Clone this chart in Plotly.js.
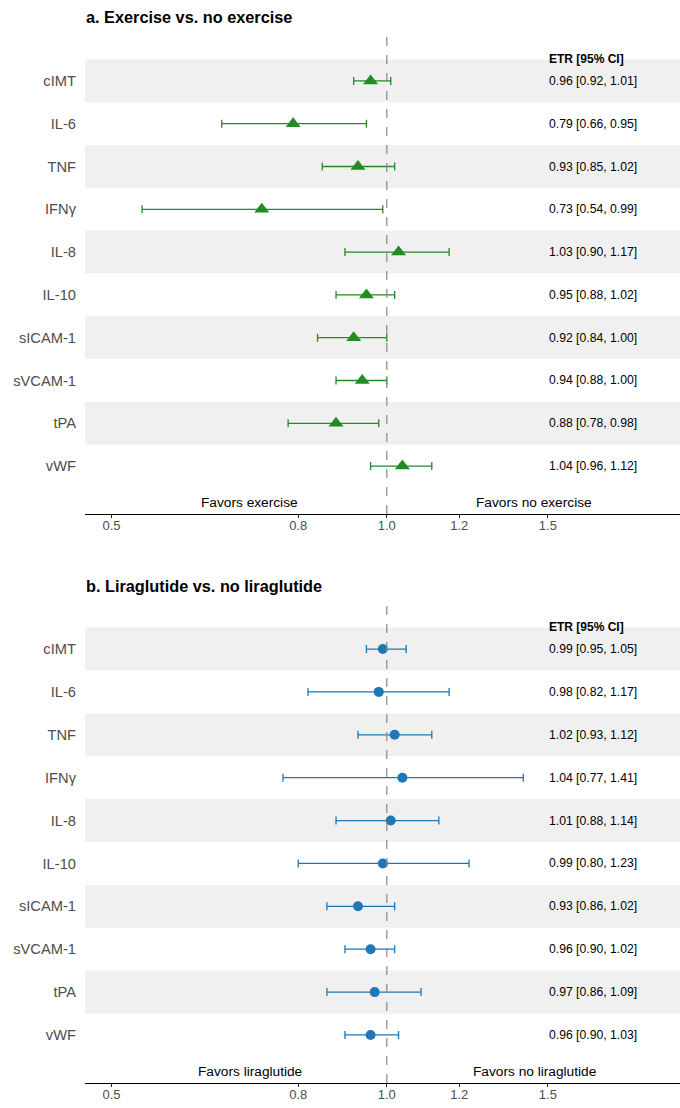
<!DOCTYPE html>
<html>
<head>
<meta charset="utf-8">
<script src="https://cdn.plot.ly/plotly-3.0.1.min.js"></script>
<style>html,body{margin:0;padding:0;background:#fff;}#chart{width:680px;height:1108px;}</style>
</head>
<body>
<div id="chart"></div>
<script>
const categories = ['cIMT','IL-6','TNF','IFNγ','IL-8','IL-10','sICAM-1','sVCAM-1','tPA','vWF'];

const exerciseEst = [0.96, 0.79, 0.93, 0.73, 1.03, 0.95, 0.92, 0.94, 0.88, 1.04];
const exerciseLow = [0.92, 0.66, 0.85, 0.54, 0.90, 0.88, 0.84, 0.88, 0.78, 0.96];
const exerciseHigh = [1.01, 0.95, 1.02, 0.99, 1.17, 1.02, 1.00, 1.00, 0.98, 1.12];

const liraEst = [0.99, 0.98, 1.02, 1.04, 1.01, 0.99, 0.93, 0.96, 0.97, 0.96];
const liraLow = [0.95, 0.82, 0.93, 0.77, 0.88, 0.80, 0.86, 0.90, 0.86, 0.90];
const liraHigh = [1.05, 1.17, 1.12, 1.41, 1.14, 1.23, 1.02, 1.02, 1.09, 1.03];

const tickVals = [0.5, 0.8, 1.0, 1.2, 1.5];
const tickText = ['0.5', '0.8', '1.0', '1.2', '1.5'];

const panelTitles = ['a. Exercise vs. no exercise', 'b. Liraglutide vs. no liraglutide'];
const favorsLeft = ['Favors exercise', 'Favors liraglutide'];
const favorsRight = ['Favors no exercise', 'Favors no liraglutide'];
const headerText = 'ETR [95% CI]';

const FONT = 'Liberation Sans, Arial, Helvetica, sans-serif';
const rows = categories.map((c, i) => i);
const fmt = v => v.toFixed(2);

function makeTrace(est, lo, hi, xa, ya, color, symbol, size) {
  return {
    type: 'scatter', mode: 'markers',
    x: est, y: rows, xaxis: xa, yaxis: ya,
    marker: {color: color, symbol: symbol, size: size, line: {width: 0}},
    error_x: {
      type: 'data', symmetric: false,
      array: est.map((v, i) => hi[i] - v),
      arrayminus: est.map((v, i) => v - lo[i]),
      color: color, thickness: 1.3, width: 4
    },
    hoverinfo: 'skip', showlegend: false, cliponaxis: false
  };
}

const data = [
  makeTrace(exerciseEst, exerciseLow, exerciseHigh, 'x', 'y', '#228B22', 'triangle-up', 13),
  makeTrace(liraEst, liraLow, liraHigh, 'x2', 'y2', '#1f77b4', 'circle', 10)
];

const xRange = [-0.330, 0.3206];
const yRange = [10.12, -1.19];

function xAxis(anchor) {
  return {
    type: 'log', range: xRange, domain: [85/680, 1], anchor: anchor,
    tickvals: tickVals, ticktext: tickText, ticks: 'outside', ticklen: 3,
    tickcolor: '#222', tickwidth: 1, showline: true, linecolor: '#000', linewidth: 1.3,
    showgrid: false, zeroline: false, fixedrange: true, ticklabelstandoff: -4,
    tickfont: {family: FONT, size: 13, color: '#4d4d4d'}
  };
}
function yAxis(anchor, domain) {
  return {
    range: yRange, domain: domain, anchor: anchor,
    tickvals: rows, ticktext: categories, ticks: '', showline: false,
    showgrid: false, zeroline: false, fixedrange: true,
    tickfont: {family: FONT, size: 14.7, color: '#4d4d4d'}, ticklabelstandoff: 8
  };
}

const shapes = [];
const annotations = [];
const panels = [
  {xa: 'x', ya: 'y', est: exerciseEst, lo: exerciseLow, hi: exerciseHigh, titleY: 1 - 17/1108},
  {xa: 'x2', ya: 'y2', est: liraEst, lo: liraLow, hi: liraHigh, titleY: 1 - 586/1108}
];
panels.forEach((p, k) => {
  rows.forEach(i => {
    if (i % 2 === 0) {
      shapes.push({type: 'rect', xref: p.xa + ' domain', x0: 0, x1: 1, yref: p.ya,
        y0: i - 0.5, y1: i + 0.5, fillcolor: '#f0f0f0', line: {width: 0}, layer: 'below'});
    }
    annotations.push({xref: p.xa + ' domain', x: 0.776, xanchor: 'left', yref: p.ya, y: i,
      yanchor: 'middle', showarrow: false,
      text: fmt(p.est[i]) + ' [' + fmt(p.lo[i]) + ', ' + fmt(p.hi[i]) + ']',
      font: {family: FONT, size: 12.2, color: '#000'}});
  });
  shapes.push({type: 'line', xref: p.xa, x0: 1, x1: 1, yref: p.ya + ' domain', y0: 0, y1: 1,
    line: {color: '#888', width: 1.2, dash: 'dash'}, layer: 'above'});
  annotations.push({xref: p.xa + ' domain', x: 0.776, xanchor: 'left', yref: p.ya, y: -0.52,
    yanchor: 'middle', showarrow: false, text: '<b>' + headerText + '</b>',
    font: {family: FONT, size: 12, color: '#000'}});
  annotations.push({xref: p.xa + ' domain', x: 0.277, xanchor: 'center', yref: p.ya + ' domain', y: 0.023,
    yanchor: 'middle', showarrow: false, text: favorsLeft[k],
    font: {family: FONT, size: 13.7, color: '#000'}});
  annotations.push({xref: p.xa + ' domain', x: 0.755, xanchor: 'center', yref: p.ya + ' domain', y: 0.023,
    yanchor: 'middle', showarrow: false, text: favorsRight[k],
    font: {family: FONT, size: 13.7, color: '#000'}});
  annotations.push({xref: 'paper', x: 84/680, xanchor: 'left', yref: 'paper', y: p.titleY,
    yanchor: 'middle', showarrow: false, text: '<b>' + panelTitles[k] + '</b>',
    font: {family: FONT, size: 16.3, color: '#000'}});
});

const layout = {
  width: 680, height: 1108,
  margin: {l: 0, r: 0, t: 0, b: 0},
  paper_bgcolor: '#fff', plot_bgcolor: '#fff',
  showlegend: false,
  xaxis: xAxis('y'),
  yaxis: yAxis('x', [1 - 514/1108, 1 - 30/1108]),
  xaxis2: xAxis('y2'),
  yaxis2: yAxis('x2', [1 - 1083/1108, 1 - 598/1108]),
  shapes: shapes,
  annotations: annotations,
  font: {family: FONT}
};

Plotly.newPlot('chart', data, layout, {displayModeBar: false, staticPlot: true});
</script>
</body>
</html>
